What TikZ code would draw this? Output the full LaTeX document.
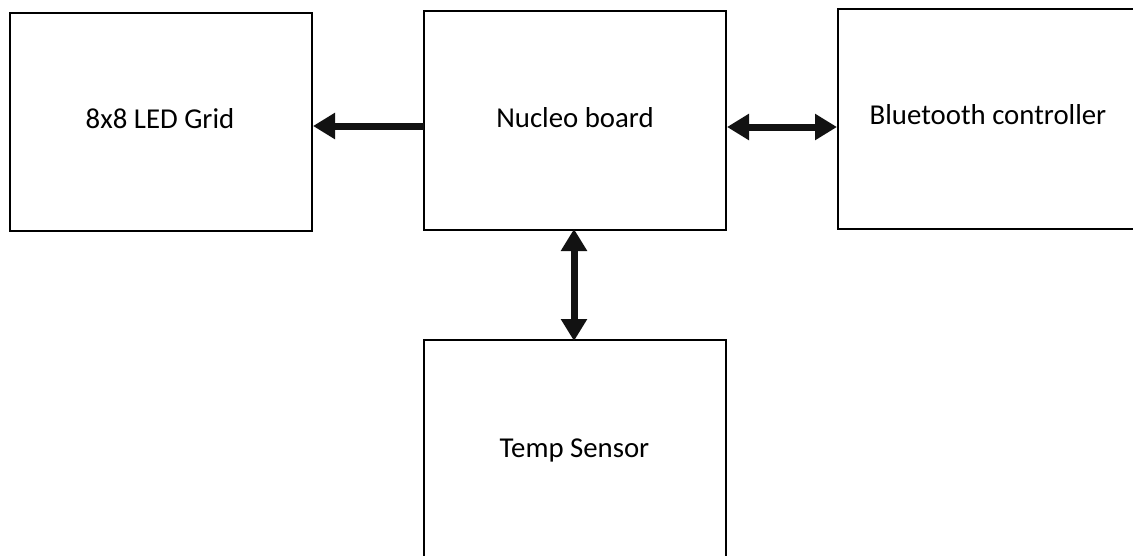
\documentclass[tikz,border=0pt]{standalone}
\usepackage{fontspec}
\setmainfont{Carlito}
\usetikzlibrary{arrows.meta}
\begin{document}
\begin{tikzpicture}[x=1pt,y=-1pt,
  box/.style={draw=black,line width=2pt,rectangle,inner sep=0pt,outer sep=0pt,fill=white},
  lbl/.style={anchor=base,inner sep=0pt,font=\fontsize{28.8}{34}\selectfont},
  conn/.style={line width=7pt,draw=black!93},
  tip/.style={{Triangle[length=22pt,width=25pt]}}]
\path[use as bounding box] (0,0) rectangle (1133,555);
\clip (0,0) rectangle (1133,555);
\node[box,minimum width=302pt,minimum height=218pt] (led) at (161,122) {};
\node[box,minimum width=302pt,minimum height=219pt] (nuc) at (575,120.5) {};
\node[box,minimum width=300pt,minimum height=220pt] (bt) at (988,119) {};
\node[box,minimum width=302pt,minimum height=220pt] (tmp) at (575,450) {};
\node[lbl] (ledt) at (160,128) {8x8 LED Grid};
\node[lbl] (nuct) at (575,127) {Nucleo board};
\node[lbl] (btt) at (988,124) {Bluetooth controller};
\node[lbl] (tmpt) at (574.5,457) {Temp Sensor};
\coordinate (y1) at (0,126);
\coordinate (y2) at (0,127);
\coordinate (x3) at (574,0);
\draw[conn,-{Triangle[length=22pt,width=25pt]}] (nuc.west |- y1) -- ([xshift=1pt]led.east |- y1);
\draw[conn,{Triangle[length=22pt,width=25pt]}-{Triangle[length=22pt,width=25pt]}] ([xshift=1pt]nuc.east |- y2) -- ([xshift=-1pt]bt.west |- y2);
\draw[conn,{Triangle[length=22pt,width=25pt]}-{Triangle[length=22pt,width=25pt]}] ([yshift=1pt]x3 |- nuc.south) -- ([yshift=-1pt]x3 |- tmp.north);
\end{tikzpicture}
\end{document}
